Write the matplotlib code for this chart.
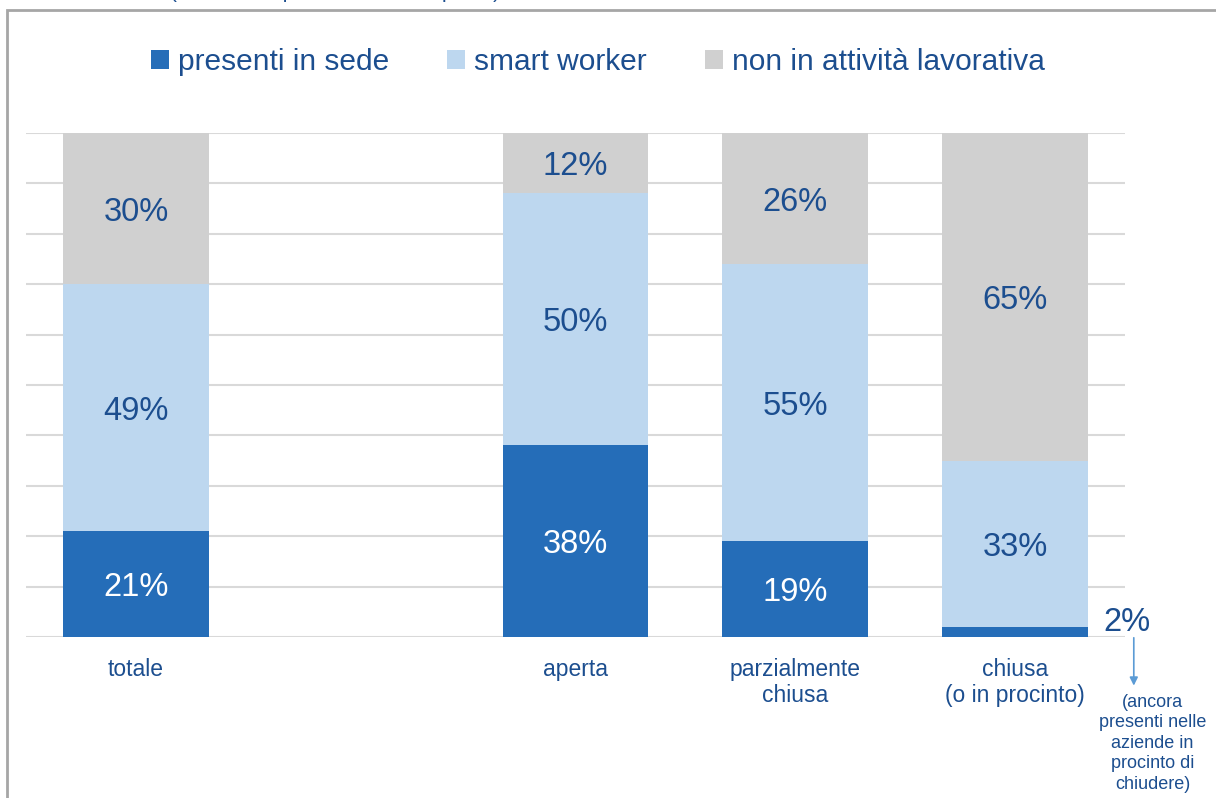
import numpy as np
import matplotlib.pyplot as plt
from matplotlib.patches import Rectangle

plt.rcParams['font.family'] = ['Liberation Sans', 'DejaVu Sans']

categories = ["totale", "", "aperta", "parzialmente\nchiusa", "chiusa\n(o in procinto)"]
presenti = [21, np.nan, 38, 19, 2]
smart = [49, np.nan, 50, 55, 33]
non_attivi = [30, np.nan, 12, 26, 65]
series_names = ["presenti in sede", "smart worker", "non in attività lavorativa"]

DARK = "#256DB8"
LIGHT = "#BDD7EF"
GREY = "#D0D0D0"
TXT = "#1C4E8F"

fig = plt.figure(figsize=(12.16, 7.98), dpi=100)
ax = fig.add_axes([26 / 1216, 1 - 637 / 798, (1125 - 26) / 1216, (637 - 133) / 798])

x = np.arange(len(categories))
w = 0.664
p = np.array(presenti, dtype=float)
s = np.array(smart, dtype=float)
n = np.array(non_attivi, dtype=float)

b1 = ax.bar(x, p, w, color=DARK, label=series_names[0], zorder=3)
b2 = ax.bar(x, s, w, bottom=p, color=LIGHT, label=series_names[1], zorder=3)
b3 = ax.bar(x, n, w, bottom=p + s, color=GREY, label=series_names[2], zorder=3)

# etichette dentro le barre
for i in range(len(categories)):
    if np.isnan(p[i]):
        continue
    if p[i] >= 5:
        ax.text(x[i], p[i] / 2, f"{p[i]:.0f}%", ha="center", va="center_baseline",
                color="white", fontsize=23.5)
    ax.text(x[i], p[i] + s[i] / 2, f"{s[i]:.0f}%", ha="center", va="center_baseline",
            color=TXT, fontsize=23.5)
    ax.text(x[i], p[i] + s[i] + n[i] / 2, f"{n[i]:.0f}%", ha="center",
            va="center_baseline", color=TXT, fontsize=23.5)

# nota per il 2% delle aziende chiuse
ax.text(x[4] + 0.4, p[4] + 1.5, f"{p[4]:.0f}%", ha="left", va="center_baseline",
        color=TXT, fontsize=23.5)
ax.annotate("", xy=(x[4] + 0.54, -10.2), xytext=(x[4] + 0.54, 0.4),
            arrowprops=dict(arrowstyle="-|>", color="#5B9BD5", lw=1.2,
                            mutation_scale=12),
            annotation_clip=False)
ax.text(x[4] + 0.625, -11.3, "(ancora\npresenti nelle\naziende in\nprocinto di\nchiudere)",
        ha="center", va="top", color=TXT, fontsize=13, linespacing=1.27)

ax.set_xlim(-0.5, 4.5)
ax.set_ylim(0, 100)
ax.set_yticks(np.arange(0, 101, 10))
ax.yaxis.grid(True, color="#D9D9D9", lw=1.5, zorder=0)
ax.tick_params(axis="y", length=0, labelleft=False)
ax.set_xticks(x)
ax.set_xticklabels(categories, color=TXT, fontsize=16.5, linespacing=1.15)
ax.tick_params(axis="x", length=0, pad=15)
for sp in ax.spines.values():
    sp.set_visible(False)

fig.legend(handles=[b1, b2, b3], loc="center", bbox_to_anchor=(598 / 1216, 1 - 62 / 798),
           ncol=3, frameon=False, fontsize=21.5, labelcolor=TXT,
           handlelength=0.6, handleheight=0.6, handletextpad=0.3, columnspacing=1.95)

# titolo tagliato in alto
fig.text(335 / 1216, 1 + 2 / 798, "(sul totale dipendenti del campione)",
         ha="center", va="baseline", color=TXT, fontsize=15)

fig.patches.append(Rectangle((7 / 1216, -0.1), 1.2, 1 - 10 / 798 + 0.1,
                             transform=fig.transFigure, fill=False,
                             edgecolor="#A6A6A6", lw=2))

fig.savefig("out.png", dpi=100)
